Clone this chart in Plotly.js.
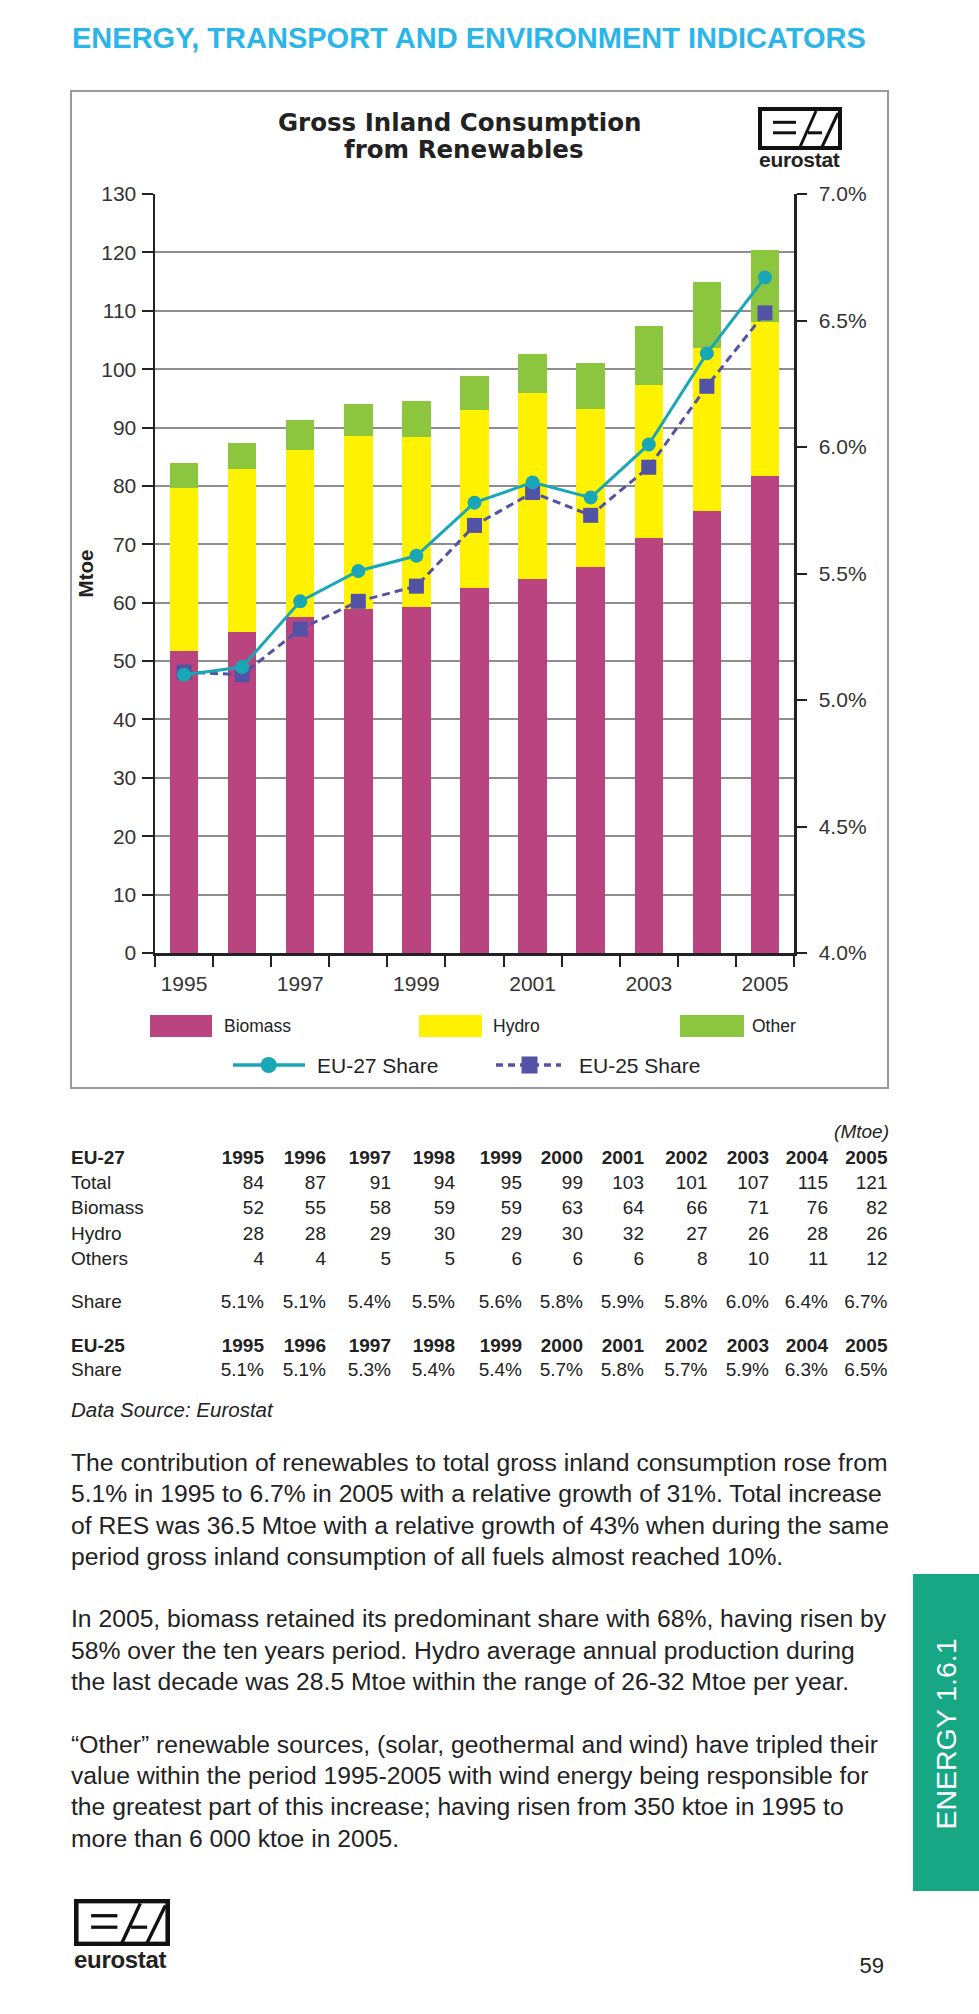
<!DOCTYPE html>
<html>
<head>
<meta charset="utf-8">
<script src="https://cdn.plot.ly/plotly-3.0.1.min.js"></script>
<style>
html,body{margin:0;padding:0;background:#fff;}
#page{position:relative;width:979px;height:2014px;overflow:hidden;font-family:"Liberation Sans",Arial,Helvetica,sans-serif;color:#222;background:#fff;}
.abs{position:absolute;white-space:nowrap;}
#chart{position:absolute;left:0;top:0;width:979px;height:1100px;z-index:1;}
#box{position:absolute;left:70px;top:90px;width:819px;height:999px;box-sizing:border-box;border:2.5px solid #9a9a9a;z-index:0;}
.row{position:absolute;left:0;width:979px;height:24px;line-height:24px;font-size:19px;}
.cell{position:absolute;width:70px;text-align:right;top:0;}
.lab{position:absolute;left:71px;top:0;}
</style>
</head>
<body>
<div id="page">
  <div class="abs" id="header" style="left:72px;top:21px;font-size:29px;line-height:34px;font-weight:bold;color:#2bb5e8;">ENERGY, TRANSPORT AND ENVIRONMENT INDICATORS</div>
  <div id="box"></div>
  <div id="chart"></div>
  <div class="abs" id="logo1" style="left:758px;top:107px;z-index:2;"></div>
  <div class="abs" style="left:759px;top:148px;font-size:21px;line-height:24px;font-weight:bold;color:#222;letter-spacing:-0.3px;z-index:2;">eurostat</div>
  <div id="table"></div>
  <div id="body" class="abs" style="left:71px;top:1447px;font-size:24.7px;line-height:31.3px;color:#222;"></div>
  <div class="abs" style="left:913px;top:1574px;width:66px;height:317px;background:#17a784;">
    <div class="abs" style="left:33px;top:160px;transform:translate(-50%,-50%) rotate(-90deg);color:#fff;font-size:28.5px;line-height:32px;">ENERGY 1.6.1</div>
  </div>
  <div class="abs" id="logo2" style="left:74px;top:1899px;"></div>
  <div class="abs" style="left:74px;top:1946px;font-size:24px;line-height:28px;font-weight:bold;color:#222;letter-spacing:-0.3px;">eurostat</div>
  <div class="abs" style="left:850px;width:34px;text-align:right;top:1953px;font-size:22px;line-height:26px;color:#222;">59</div>
</div>
<script>
// ---------------- data ----------------
const years = [1995, 1996, 1997, 1998, 1999, 2000, 2001, 2002, 2003, 2004, 2005];
const xTickLabels = ['1995', '1997', '1999', '2001', '2003', '2005'];
const biomass = [51.7, 54.9, 57.6, 58.9, 59.2, 62.5, 64.1, 66.1, 71.1, 75.7, 81.7];
const hydro   = [28.0, 28.0, 28.5, 29.6, 29.1, 30.5, 31.8, 27.1, 26.2, 27.9, 26.4];
const other   = [4.3, 4.4, 5.2, 5.5, 6.2, 5.8, 6.7, 7.9, 10.1, 11.3, 12.3];
const eu27Share = [5.10, 5.13, 5.39, 5.51, 5.57, 5.78, 5.86, 5.80, 6.01, 6.37, 6.67];
const eu25Share = [5.11, 5.10, 5.28, 5.39, 5.45, 5.69, 5.82, 5.73, 5.92, 6.24, 6.53];
const seriesNames = ['Biomass', 'Hydro', 'Other', 'EU-27 Share', 'EU-25 Share'];
const leftTicks = [0, 10, 20, 30, 40, 50, 60, 70, 80, 90, 100, 110, 120, 130];
const rightTicks = [4.0, 4.5, 5.0, 5.5, 6.0, 6.5, 7.0];
const rightTickLabels = ['4.0%', '4.5%', '5.0%', '5.5%', '6.0%', '6.5%', '7.0%'];

// table data
const tableYears = ['1995','1996','1997','1998','1999','2000','2001','2002','2003','2004','2005'];
const tableTotal = [84, 87, 91, 94, 95, 99, 103, 101, 107, 115, 121];
const tableBiomass = [52, 55, 58, 59, 59, 63, 64, 66, 71, 76, 82];
const tableHydro = [28, 28, 29, 30, 29, 30, 32, 27, 26, 28, 26];
const tableOthers = [4, 4, 5, 5, 6, 6, 6, 8, 10, 11, 12];
const tableShare27 = ['5.1%','5.1%','5.4%','5.5%','5.6%','5.8%','5.9%','5.8%','6.0%','6.4%','6.7%'];
const tableShare25 = ['5.1%','5.1%','5.3%','5.4%','5.4%','5.7%','5.8%','5.7%','5.9%','6.3%','6.5%'];

const bodyLines = [
  'The contribution of renewables to total gross inland consumption rose from',
  '5.1% in 1995 to 6.7% in 2005 with a relative growth of 31%. Total increase',
  'of RES was 36.5 Mtoe with a relative growth of 43% when during the same',
  'period gross inland consumption of all fuels almost reached 10%.',
  '',
  'In 2005, biomass retained its predominant share with 68%, having risen by',
  '58% over the ten years period. Hydro average annual production during',
  'the last decade was 28.5 Mtoe within the range of 26-32 Mtoe per year.',
  '',
  '\u201COther\u201D renewable sources, (solar, geothermal and wind) have tripled their',
  'value within the period 1995-2005 with wind energy being responsible for',
  'the greatest part of this increase; having risen from 350 ktoe in 1995 to',
  'more than 6 000 ktoe in 2005.'
];

// ---------------- styles ----------------
const FONT = '"Liberation Sans", Arial, Helvetica, sans-serif';
const C_BIO = '#b9447f', C_HYD = '#fff200', C_OTH = '#8cc63f', C_27 = '#19a7b6', C_25 = '#5353a6';

// plot-area pixel geometry
const L = 155, R = 794, T = 194, B = 953, FW = 979, FH = 1100;
const PW = R - L, PH = B - T;
const px = x => (x - L) / PW;
const py = y => (B - y) / PH;

const traces = [
  {type:'bar', x:years, y:biomass, name:seriesNames[0], marker:{color:C_BIO}, width:0.49},
  {type:'bar', x:years, y:hydro, name:seriesNames[1], marker:{color:C_HYD}, width:0.49},
  {type:'bar', x:years, y:other, name:seriesNames[2], marker:{color:C_OTH}, width:0.49},
  {type:'scatter', mode:'lines+markers', x:years, y:eu25Share, yaxis:'y2', name:seriesNames[4],
   line:{color:C_25, width:3, dash:'8px,5px'}, marker:{symbol:'square', size:15, color:C_25}, cliponaxis:false},
  {type:'scatter', mode:'lines+markers', x:years, y:eu27Share, yaxis:'y2', name:seriesNames[3],
   line:{color:C_27, width:3}, marker:{symbol:'circle', size:14, color:C_27}, cliponaxis:false}
];

const minorVals = years.map(v => v - 0.5).concat([years[years.length - 1] + 0.5]);

const ann = (text, x, y, size, opts) => Object.assign({
  text: text, xref:'paper', yref:'paper', x: px(x), y: py(y), showarrow:false,
  xanchor:'left', yanchor:'middle', font:{family:FONT, size:size, color:'#222'}
}, opts || {});

const layout = {
  width: FW, height: FH,
  margin: {l:L, r:FW - R, t:T, b:FH - B, pad:0},
  paper_bgcolor:'rgba(0,0,0,0)', plot_bgcolor:'rgba(0,0,0,0)',
  barmode:'stack', showlegend:false,
  font:{family:FONT, size:21, color:'#333'},
  xaxis:{
    range:[years[0] - 0.5, years[years.length - 1] + 0.5],
    tickmode:'array', tickvals:xTickLabels.map(Number), ticktext:xTickLabels,
    ticks:'', showgrid:false, zeroline:false,
    showline:true, linecolor:'#222', linewidth:2.5,
    ticklabelstandoff:10,
    tickfont:{family:FONT, size:21, color:'#333'},
    minor:{tickmode:'array', tickvals:minorVals, ticks:'outside', ticklen:11, tickwidth:2, tickcolor:'#222', showgrid:false}
  },
  yaxis:{
    range:[0, 130], tickmode:'array', tickvals:leftTicks,
    ticks:'outside', ticklen:11, tickwidth:2, tickcolor:'#222',
    showline:true, linecolor:'#222', linewidth:2.5,
    showgrid:true, gridcolor:'#8e8e8e', gridwidth:2, zeroline:false,
    ticklabelstandoff:1,
    tickfont:{family:FONT, size:21, color:'#333'},
    title:{text:'<b>Mtoe</b>', font:{family:FONT, size:20.5, color:'#222'}, standoff:2}
  },
  yaxis2:{
    overlaying:'y', side:'right', range:[4, 7],
    tickmode:'array', tickvals:rightTicks, ticktext:rightTickLabels,
    ticks:'outside', ticklen:10, tickwidth:2, tickcolor:'#222',
    showline:true, linecolor:'#222', linewidth:2.5,
    showgrid:false, zeroline:false, ticklabelstandoff:8,
    tickfont:{family:FONT, size:21, color:'#333'}
  },
  annotations:[
    ann('<b>Gross Inland Consumption</b>', 459.5, 122, 25, {xanchor:'center', font:{family:'"DejaVu Sans", sans-serif', size:24.5, color:'#222'}}),
    ann('<b>from Renewables</b>', 463, 150, 25, {xanchor:'center', font:{family:'"DejaVu Sans", sans-serif', size:24.5, color:'#222'}}),
    ann(seriesNames[0], 222, 1026, 17.5),
    ann(seriesNames[1], 491, 1026, 17.5),
    ann(seriesNames[2], 750, 1026, 17.5),
    ann(seriesNames[3], 315, 1065, 21),
    ann(seriesNames[4], 577, 1065, 21)
  ],
  shapes:[
    {type:'rect', xref:'paper', yref:'paper', x0:px(150), x1:px(212), y0:py(1037), y1:py(1015), fillcolor:C_BIO, line:{width:0}},
    {type:'rect', xref:'paper', yref:'paper', x0:px(419), x1:px(482), y0:py(1037), y1:py(1015), fillcolor:C_HYD, line:{width:0}},
    {type:'rect', xref:'paper', yref:'paper', x0:px(680), x1:px(744), y0:py(1037), y1:py(1015), fillcolor:C_OTH, line:{width:0}},
    {type:'line', xref:'paper', yref:'paper', x0:px(233), x1:px(305), y0:py(1065), y1:py(1065), line:{color:C_27, width:3.5}},
    {type:'circle', xref:'paper', yref:'paper', x0:px(260.7), x1:px(276.7), y0:py(1073), y1:py(1057), fillcolor:C_27, line:{width:0}},
    {type:'line', xref:'paper', yref:'paper', x0:px(496), x1:px(561), y0:py(1065), y1:py(1065), line:{color:C_25, width:3.5, dash:'7px,5px'}},
    {type:'rect', xref:'paper', yref:'paper', x0:px(521.5), x1:px(537.5), y0:py(1073.5), y1:py(1056.5), fillcolor:C_25, line:{width:0}}
  ]
};

Plotly.newPlot('chart', traces, layout, {staticPlot:true, displayModeBar:false});

// ---------------- logos ----------------
function logoSVG(w, h) {
  return '<svg width="' + w + '" height="' + h + '" viewBox="0 0 84 43" preserveAspectRatio="none" xmlns="http://www.w3.org/2000/svg">' +
    '<rect x="2" y="2" width="80" height="39" fill="#fff" stroke="#111" stroke-width="4"/>' +
    '<g stroke="#111" stroke-width="3" fill="none">' +
    '<path d="M15 15.3 H38"/><path d="M15 25.8 H38"/>' +
    '<path d="M42 40 L58 4"/><path d="M50 25.8 H64"/><path d="M64 40 L80 6"/>' +
    '</g></svg>';
}
document.getElementById('logo1').innerHTML = logoSVG(84, 43);
document.getElementById('logo2').innerHTML = logoSVG(96, 47);

// ---------------- table ----------------
const colRight = [264, 326, 391, 455, 522, 583, 644, 707.5, 769, 828, 887.5];
const rows = [
  {label:'EU-27', vals:tableYears, bold:true, y:1158},
  {label:'Total', vals:tableTotal, y:1183},
  {label:'Biomass', vals:tableBiomass, y:1208},
  {label:'Hydro', vals:tableHydro, y:1234},
  {label:'Others', vals:tableOthers, y:1259},
  {label:'Share', vals:tableShare27, y:1302},
  {label:'EU-25', vals:tableYears, bold:true, y:1346},
  {label:'Share', vals:tableShare25, y:1370}
];
let html = '<div class="row" style="top:1120px;"><div class="cell" style="left:' + (889 - 70) + 'px;font-style:italic;">(Mtoe)</div></div>';
rows.forEach(r => {
  html += '<div class="row" style="top:' + (r.y - 12) + 'px;' + (r.bold ? 'font-weight:bold;' : '') + '">';
  html += '<div class="lab">' + r.label + '</div>';
  r.vals.forEach((v, i) => {
    html += '<div class="cell" style="left:' + (colRight[i] - 70) + 'px;">' + v + '</div>';
  });
  html += '</div>';
});
html += '<div class="row" style="top:1398px;font-size:20.5px;font-style:italic;"><div class="lab">Data Source: Eurostat</div></div>';
document.getElementById('table').innerHTML = html;

// ---------------- body text ----------------
document.getElementById('body').innerHTML = bodyLines.map(s => s === '' ? '&nbsp;' : s).join('<br>');
</script>
</body>
</html>
